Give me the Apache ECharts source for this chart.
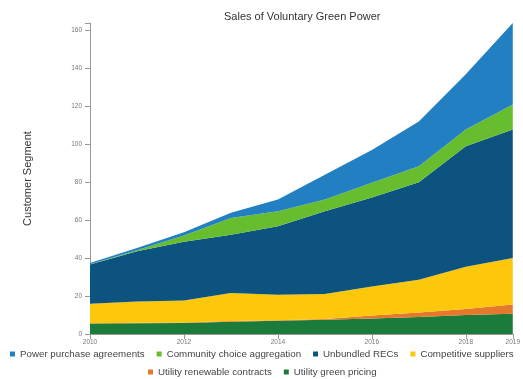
<!DOCTYPE html>
<html>
<head>
<meta charset="utf-8">
<script src="https://cdn.jsdelivr.net/npm/echarts@6/dist/echarts.min.js"></script>
<style>
	html, body { margin: 0; padding: 0; background: #fff; }
	#main { width: 523px; height: 379px; }
</style>
</head>
<body>
<div id="main"></div>
<script>
// years on the x axis
var years = ['2010', '2011', '2012', '2013', '2014', '2015', '2016', '2017', '2018', '2019'];

// one list per segment, bottom of the stack first
var greenPricing = [5.5, 5.7, 5.8, 6.5, 7.0, 7.5, 8.2, 9.0, 10.0, 10.7];
var renewableContracts = [0.2, 0.2, 0.2, 0.3, 0.3, 0.4, 1.5, 2.4, 3.2, 4.8];
var competitiveSuppliers = [10.3, 11.3, 11.7, 14.8, 13.4, 13.2, 15.4, 17.2, 22.2, 24.6];
var unbundledRecs = [20.6, 26.4, 31.0, 30.8, 36.1, 43.6, 46.9, 51.4, 63.6, 67.7];
var communityChoice = [0.2, 0.6, 3.2, 8.8, 7.9, 6.2, 7.7, 8.4, 8.8, 13.2];
var powerPurchase = [0.7, 1.2, 1.7, 2.7, 6.2, 13.1, 17.3, 23.6, 29.2, 43.0];

var legendRow1 = ['Power purchase agreements', 'Community choice aggregation', 'Unbundled RECs', 'Competitive suppliers'];
var legendRow2 = ['Utility renewable contracts', 'Utility green pricing'];

// label every other year plus the last one
function showYear(i) {
	return i % 2 === 0 || i === years.length - 1;
}

function layer(name, arr, color) {
	return {
		name: name,
		type: 'line',
		stack: 'total',
		smooth: false,
		symbol: 'none',
		lineStyle: { width: 0 },
		areaStyle: { color: color, opacity: 1 },
		itemStyle: { color: color },
		data: arr
	};
}

var legendBase = {
	itemWidth: 5,
	itemHeight: 5,
	itemGap: 12,
	padding: 0,
	width: 520,
	icon: 'rect',
	textStyle: { fontFamily: 'Liberation Sans, Arial', fontSize: 9.75, color: '#444' }
};

var chart = echarts.init(document.getElementById('main'));
var option = {
	animation: false,
	backgroundColor: '#fff',
	title: {
		text: 'Sales of Voluntary Green Power',
		left: 219,
		top: 6,
		textStyle: { fontFamily: 'Liberation Sans, Arial', fontSize: 11, fontWeight: 'normal', color: '#333' }
	},
	legend: [
		Object.assign({}, legendBase, { data: legendRow1, left: 10, top: 349 }),
		Object.assign({}, legendBase, { data: legendRow2, left: 148, top: 367 })
	],
	grid: { left: 90, right: 7, top: 23, bottom: 45 },
	xAxis: {
		type: 'category',
		data: years,
		boundaryGap: false,
		splitLine: { show: false },
		axisLine: { lineStyle: { color: '#999' } },
		axisTick: { length: 5, interval: showYear, lineStyle: { color: '#999' } },
		axisLabel: {
			fontSize: 6.5,
			color: '#777',
			margin: 5,
			interval: showYear
		}
	},
	yAxis: {
		type: 'value',
		min: 0,
		max: 164,
		interval: 20,
		name: 'Customer Segment',
		nameLocation: 'middle',
		nameGap: 57,
		nameTextStyle: { fontFamily: 'Liberation Sans, Arial', fontSize: 11, color: '#333' },
		splitLine: { show: false },
		axisLine: { show: true, lineStyle: { color: '#999' } },
		axisTick: { show: true, length: 5, lineStyle: { color: '#999' } },
		axisLabel: {
			fontSize: 6.5,
			color: '#777',
			margin: 8,
			formatter: function(v) { return v % 20 === 0 ? String(v) : ''; }
		}
	},
	series: [
		layer('Utility green pricing', greenPricing, '#1a7b3a'),
		layer('Utility renewable contracts', renewableContracts, '#e5782b'),
		layer('Competitive suppliers', competitiveSuppliers, '#fdc70c'),
		layer('Unbundled RECs', unbundledRecs, '#0c537f'),
		layer('Community choice aggregation', communityChoice, '#68bd2f'),
		layer('Power purchase agreements', powerPurchase, '#2280c2')
	]
};
chart.setOption(option);
</script>
</body>
</html>
